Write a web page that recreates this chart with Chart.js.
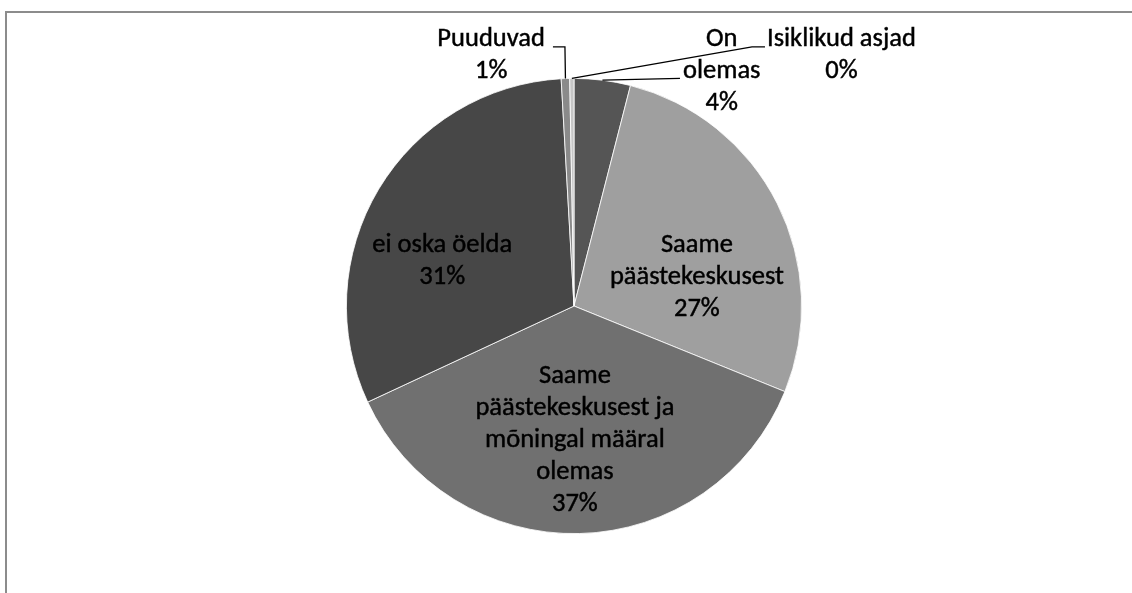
<!DOCTYPE html>
<html>
<head>
<meta charset="utf-8">
<script src="https://cdn.jsdelivr.net/npm/chart.js@4"></script>
<style>
  html, body { margin: 0; padding: 0; background: #fff; }
  #wrap { position: relative; width: 1132px; height: 593px; }
</style>
</head>
<body>
<div id="wrap"><canvas id="c" width="1132" height="593"></canvas></div>
<script>
// ---- data ----
const categories = ['On olemas', 'Saame päästekeskusest', 'Saame päästekeskusest ja mõningal määral olemas', 'ei oska öelda', 'Puuduvad', 'Isiklikud asjad'];
const values = [4.0, 27.2, 37.0, 31.1, 0.6, 0.3];
const sliceColors = ['#555555', '#9f9f9f', '#707070', '#474747', '#8a8a8a', '#c6c6c6'];

// ---- label layout (relative to pie radius) ----
const labelFont = '26.5px Carlito, Lato, "DejaVu Sans", sans-serif';
const lineHeight = 32;
const labelLayout = [
  { dx: 0.649, dy: -1.031, wrap: 60, leader: { side: 'left', line: 1, gap: 3, elbow: 0 } },
  { dx: 0.540, dy: -0.127, wrap: 200 },
  { dx: 0.004, dy: 0.590, wrap: 215 },
  { dx: -0.579, dy: -0.195, wrap: 200 },
  { dx: -0.364, dy: -1.099, wrap: 200, leader: { side: 'right', line: 0, gap: 8, elbow: 12 } },
  { dx: 1.175, dy: -1.099, wrap: 200, leader: { side: 'left', line: 0, gap: 2, elbow: 13 } }
];

function wrapText(ctx, text, maxW) {
  const words = text.split(' ');
  const lines = [];
  let cur = '';
  for (const w of words) {
    const t = cur ? cur + ' ' + w : w;
    if (cur && ctx.measureText(t).width > maxW) { lines.push(cur); cur = w; }
    else cur = t;
  }
  if (cur) lines.push(cur);
  return lines;
}

const framePlugin = {
  id: 'frame',
  beforeDraw(chart) {
    const ctx = chart.ctx;
    ctx.save();
    ctx.strokeStyle = '#8c8c8c';
    ctx.lineWidth = 2;
    ctx.beginPath();
    ctx.moveTo(6, chart.height + 5);
    ctx.lineTo(6, 12);
    ctx.lineTo(chart.width + 5, 12);
    ctx.stroke();
    ctx.restore();
  }
};

const labelPlugin = {
  id: 'pieLabels',
  afterDatasetsDraw(chart) {
    const ctx = chart.ctx;
    const meta = chart.getDatasetMeta(0);
    const total = values.reduce((a, b) => a + b, 0);
    ctx.save();
    ctx.font = labelFont;
    ctx.fillStyle = '#000';
    ctx.strokeStyle = '#000';
    ctx.textAlign = 'center';
    ctx.textBaseline = 'middle';
    meta.data.forEach((arc, i) => {
      const L = labelLayout[i];
      const r = arc.outerRadius;
      const cx = arc.x + L.dx * r;
      const cy = arc.y + L.dy * r;
      const pct = Math.round(values[i] / total * 100) + '%';
      const lines = wrapText(ctx, categories[i], L.wrap).concat([pct]);
      const n = lines.length;
      const y0 = cy - (n - 1) / 2 * lineHeight;
      ctx.lineWidth = 0.45;
      lines.forEach((ln, k) => {
        ctx.fillText(ln, cx, y0 + k * lineHeight);
        ctx.strokeText(ln, cx, y0 + k * lineHeight);
      });
      if (L.leader) {
        const ld = L.leader;
        const ly = y0 + ld.line * lineHeight + 7;
        const w = ctx.measureText(lines[ld.line]).width;
        const sx = ld.side === 'right' ? cx + w / 2 + ld.gap : cx - w / 2 - ld.gap;
        const ex = ld.side === 'right' ? sx + ld.elbow : sx - ld.elbow;
        const mid = (arc.startAngle + arc.endAngle) / 2;
        const px = arc.x + Math.cos(mid) * r;
        const py = arc.y + Math.sin(mid) * r;
        ctx.lineWidth = 1.3;
        ctx.beginPath();
        ctx.moveTo(sx, ly);
        ctx.lineTo(ex, ly);
        ctx.lineTo(px, py);
        ctx.stroke();
      }
    });
    ctx.restore();
  }
};

new Chart(document.getElementById('c'), {
  type: 'pie',
  data: {
    labels: categories,
    datasets: [{
      data: values,
      backgroundColor: sliceColors,
      borderColor: '#ffffff',
      borderWidth: 0.8
    }]
  },
  options: {
    responsive: false,
    animation: false,
    rotation: 0,
    layout: { padding: { left: 346, right: 330, top: 78, bottom: 59 } },
    plugins: {
      legend: { display: false },
      tooltip: { enabled: false }
    }
  },
  plugins: [framePlugin, labelPlugin]
});
</script>
</body>
</html>
